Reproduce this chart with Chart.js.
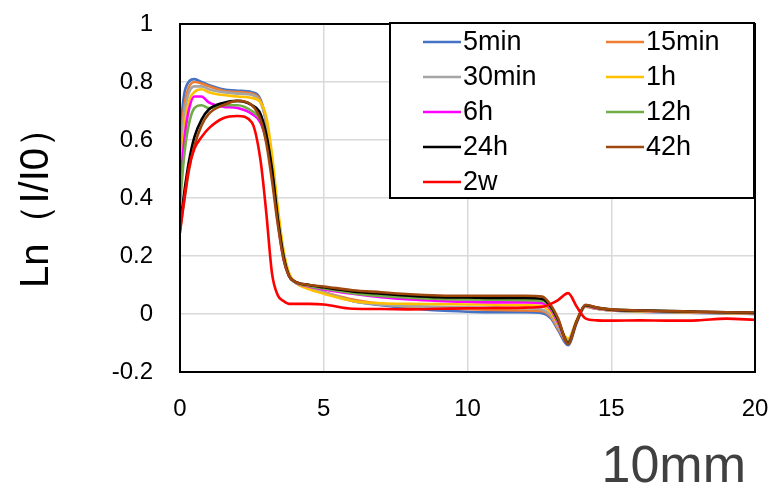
<!DOCTYPE html>
<html>
<head>
<meta charset="utf-8">
<script src="https://cdn.jsdelivr.net/npm/chart.js@4/dist/chart.umd.min.js"></script>
<style>
  html, body { margin: 0; padding: 0; background: #fff; }
  #wrap { width: 774px; height: 485px; position: relative; }
</style>
</head>
<body>
<div id="wrap"><canvas id="c" width="774" height="485"></canvas></div>
<script>
// ---- data ----
const xs = [0, 0.15, 0.3, 0.5, 0.75, 1, 1.5, 2, 2.5, 2.8, 3, 3.2, 3.4, 3.6, 3.8, 4, 4.5, 5, 6, 7, 8, 9, 10, 11, 12, 12.6, 12.9, 13.15, 13.5, 13.8, 14.1, 14.5, 15, 16, 17, 18, 19, 20];

const seriesNames = ['5min', '15min', '30min', '1h', '6h', '12h', '24h', '42h', '2w'];

const y5min  = [0.63,0.76,0.80,0.81,0.80,0.79,0.775,0.77,0.765,0.74,0.66,0.50,0.33,0.20,0.13,0.11,0.09,0.075,0.045,0.03,0.02,0.012,0.008,0.006,0.006,0.003,-0.015,-0.055,-0.108,-0.03,0.025,0.018,0.012,0.008,0.006,0.004,0.002,0.0];
const y15min = [0.57,0.72,0.78,0.80,0.795,0.785,0.77,0.765,0.76,0.735,0.66,0.50,0.33,0.20,0.13,0.11,0.088,0.075,0.05,0.035,0.025,0.02,0.017,0.014,0.012,0.01,-0.01,-0.05,-0.10,-0.025,0.025,0.018,0.012,0.01,0.007,0.005,0.003,0.0];
const y30min = [0.52,0.69,0.76,0.785,0.785,0.775,0.765,0.76,0.755,0.73,0.66,0.51,0.34,0.20,0.13,0.11,0.088,0.075,0.045,0.032,0.027,0.025,0.023,0.022,0.02,0.015,-0.005,-0.045,-0.095,-0.022,0.026,0.018,0.012,0.01,0.008,0.006,0.004,0.002];
const y1h    = [0.47,0.64,0.73,0.765,0.775,0.765,0.755,0.75,0.745,0.73,0.68,0.55,0.37,0.22,0.14,0.11,0.085,0.07,0.045,0.037,0.035,0.034,0.033,0.032,0.03,0.027,0.005,-0.035,-0.085,-0.02,0.026,0.019,0.013,0.01,0.008,0.006,0.004,0.002];
const y6h    = [0.43,0.60,0.70,0.75,0.75,0.73,0.715,0.71,0.69,0.66,0.60,0.48,0.32,0.19,0.13,0.11,0.095,0.085,0.07,0.058,0.05,0.045,0.042,0.04,0.04,0.037,0.015,-0.03,-0.095,-0.025,0.028,0.02,0.014,0.011,0.009,0.007,0.005,0.003];
const y12h   = [0.38,0.55,0.65,0.71,0.72,0.71,0.72,0.72,0.70,0.67,0.61,0.49,0.33,0.20,0.13,0.11,0.097,0.088,0.072,0.062,0.056,0.052,0.05,0.049,0.048,0.045,0.02,-0.025,-0.095,-0.025,0.029,0.021,0.015,0.012,0.009,0.007,0.005,0.003];
const y24h   = [0.30,0.42,0.52,0.61,0.67,0.705,0.728,0.735,0.72,0.69,0.62,0.50,0.33,0.20,0.13,0.112,0.10,0.092,0.078,0.07,0.063,0.058,0.057,0.055,0.055,0.052,0.025,-0.02,-0.10,-0.025,0.03,0.022,0.015,0.012,0.01,0.008,0.006,0.004];
const y42h   = [0.29,0.39,0.49,0.58,0.65,0.69,0.72,0.735,0.72,0.67,0.59,0.46,0.31,0.19,0.13,0.112,0.10,0.095,0.082,0.075,0.068,0.064,0.063,0.063,0.063,0.06,0.03,-0.015,-0.103,-0.025,0.032,0.022,0.016,0.012,0.01,0.008,0.006,0.005];
const y2w    = [0.28,0.40,0.50,0.57,0.61,0.64,0.675,0.683,0.66,0.53,0.35,0.14,0.065,0.045,0.035,0.035,0.035,0.033,0.018,0.017,0.016,0.018,0.02,0.021,0.022,0.025,0.035,0.048,0.072,0.025,-0.015,-0.022,-0.023,-0.022,-0.023,-0.022,-0.016,-0.02];

const seriesValues = [y5min, y15min, y30min, y1h, y6h, y12h, y24h, y42h, y2w];
const seriesColors = ['#4472C4', '#ED7D31', '#A5A5A5', '#FFC000', '#FF00FF', '#70AD47', '#000000', '#9E480E', '#FF0000'];

const xTickValues = [0, 5, 10, 15, 20];
const xTickLabels = ['0', '5', '10', '15', '20'];
const yTickValues = [-0.2, 0, 0.2, 0.4, 0.6, 0.8, 1];
const yTickLabels = ['-0.2', '0', '0.2', '0.4', '0.6', '0.8', '1'];

const yTitle = 'Ln（I/I0）';
const xTitle = '10mm';

// ---- build datasets ----
const datasets = seriesNames.map((name, i) => ({
  label: name,
  data: xs.map((x, j) => ({ x: x, y: seriesValues[i][j] })),
  borderColor: seriesColors[i],
  backgroundColor: seriesColors[i],
  borderWidth: 2.6,
  pointRadius: 0,
  fill: false,
  cubicInterpolationMode: 'monotone',
  order: seriesNames.length - i
}));

const FONT = "'Liberation Sans', Arial, sans-serif";

// border around plot + legend box + x-axis title
const framePlugin = {
  id: 'frame',
  afterDraw(chart) {
    const { ctx, chartArea: a } = chart;
    ctx.save();
    ctx.strokeStyle = '#000';
    ctx.lineWidth = 2;
    ctx.strokeRect(a.left, a.top, a.right - a.left, a.bottom - a.top);

    // legend box
    const bx = 390, by = 23, bw = 364, bh = 175;
    ctx.fillStyle = '#fff';
    ctx.fillRect(bx, by, bw, bh);
    ctx.strokeRect(bx, by, bw, bh);
    ctx.font = "27px " + FONT;
    ctx.textBaseline = 'middle';
    ctx.textAlign = 'left';
    const colX = [423, 606];
    const rowY0 = 42, rowDy = 35;
    chart.data.datasets.forEach((ds, i) => {
      const col = i % 2, row = Math.floor(i / 2);
      const lx = colX[col], ly = rowY0 + row * rowDy;
      ctx.strokeStyle = ds.borderColor;
      ctx.lineWidth = 2.6;
      ctx.beginPath();
      ctx.moveTo(lx, ly);
      ctx.lineTo(lx + 38, ly);
      ctx.stroke();
      ctx.fillStyle = '#000';
      ctx.fillText(ds.label, lx + 40, ly + 1);
    });

    // x-axis title at bottom right
    ctx.font = "52px " + FONT;
    ctx.fillStyle = '#404040';
    ctx.textAlign = 'right';
    ctx.textBaseline = 'alphabetic';
    ctx.fillText(xTitle, 746, 482);
    ctx.restore();
  }
};

new Chart(document.getElementById('c'), {
  type: 'line',
  data: { datasets },
  options: {
    responsive: false,
    animation: false,
    events: [],
    layout: { padding: { left: 0, top: 24, right: 19, bottom: 0 } },
    plugins: { legend: { display: false }, tooltip: { enabled: false } },
    scales: {
      x: {
        type: 'linear',
        min: 0, max: 20,
        afterBuildTicks: (s) => { s.ticks = xTickValues.map(v => ({ value: v })); },
        afterFit: (s) => { s.height = 113; },
        ticks: {
          autoSkip: false, maxRotation: 0, padding: 0,
          color: '#000',
          font: { family: FONT, size: 24 },
          callback: (v) => { const k = xTickValues.indexOf(v); return k >= 0 ? xTickLabels[k] : ''; }
        },
        grid: { color: '#D9D9D9', lineWidth: 1.5, drawTicks: true, tickLength: 23, tickColor: 'rgba(0,0,0,0)' },
        border: { color: '#000', width: 2 },
        title: { display: false }
      },
      y: {
        type: 'linear',
        min: -0.2, max: 1,
        afterBuildTicks: (s) => { s.ticks = yTickValues.map(v => ({ value: v })); },
        afterFit: (s) => { s.width = 180; },
        ticks: {
          autoSkip: false, padding: 0,
          color: '#000',
          font: { family: FONT, size: 24 },
          callback: (v) => { const k = yTickValues.findIndex(t => Math.abs(t - v) < 1e-9); return k >= 0 ? yTickLabels[k] : ''; }
        },
        grid: { color: '#D9D9D9', lineWidth: 1.5, drawTicks: true, tickLength: 27, tickColor: 'rgba(0,0,0,0)' },
        border: { color: '#000', width: 2 },
        title: {
          display: true, text: yTitle,
          color: '#000',
          font: { family: FONT, size: 40, lineHeight: 1.2 },
          padding: { top: 13, bottom: 0 }
        }
      }
    }
  },
  plugins: [framePlugin]
});
</script>
</body>
</html>
